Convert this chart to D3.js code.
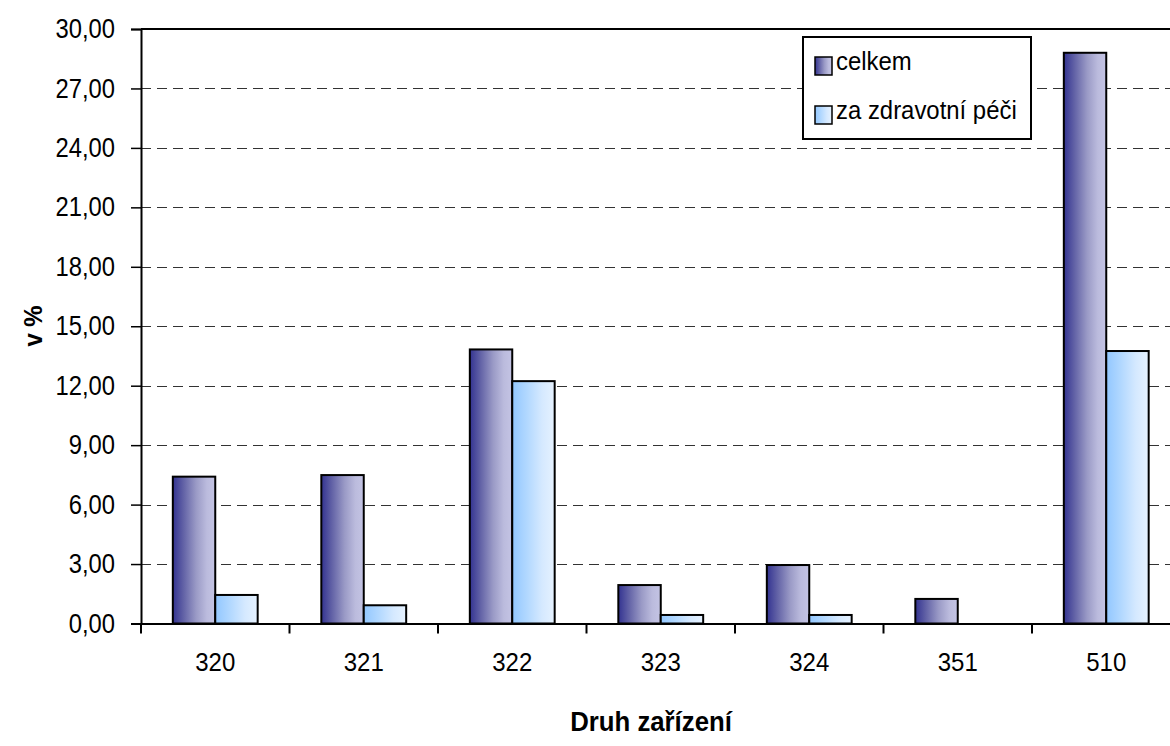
<!DOCTYPE html>
<html>
<head>
<meta charset="utf-8">
<script src="https://cdn.jsdelivr.net/npm/d3@7"></script>
<style>
  html, body { margin: 0; padding: 0; background: #fff; }
  svg { display: block; }
  text { font-family: "Liberation Sans", Arial, sans-serif; fill: #000; }
</style>
</head>
<body>
<svg id="chart" width="1170" height="746"></svg>
<script>
const categories = ["320", "321", "322", "323", "324", "351", "510"];
const seriesNames = ["celkem", "za zdravotní péči"];
const celkem = [7.41, 7.49, 13.83, 1.94, 2.95, 1.24, 28.80];
const zaPeci = [1.44, 0.92, 12.23, 0.43, 0.43, 0, 13.75];
const yTicks = [0, 3, 6, 9, 12, 15, 18, 21, 24, 27, 30];
const yTitle = "v %";
const xTitle = "Druh zařízení";

(function () {
const svg = d3.select("#chart");
const pLeft = 141, pTop = 29, pRight = 1180.5, pBottom = 623.5;

const locale = d3.formatLocale({decimal: ",", thousands: " ", grouping: [3], currency: ["", " Kč"]});
const fmt = locale.format(".2f");

const x0 = d3.scaleBand().domain(categories).range([pLeft, pRight]).padding(0);
const x1 = d3.scaleBand().domain(seriesNames).range([0, x0.bandwidth()]).paddingInner(0).paddingOuter(0.75);
const y = d3.scaleLinear().domain([0, 30]).range([pBottom, pTop]);

const defs = svg.append("defs");
function grad(id, stops) {
  const g = defs.append("linearGradient").attr("id", id).attr("x1", "0%").attr("x2", "100%").attr("y1", "0%").attr("y2", "0%");
  stops.forEach(([o, c]) => g.append("stop").attr("offset", o).attr("stop-color", c));
}
grad("gDark", [["0%", "#333391"], ["25%", "#6262a6"], ["55%", "#9a9ac6"], ["80%", "#bbbbdd"], ["100%", "#c4c4e4"]]);
grad("gLight", [["0%", "#92c7ff"], ["35%", "#b2d8ff"], ["70%", "#d5e9ff"], ["100%", "#e6f2ff"]]);
const fills = {"celkem": "url(#gDark)", "za zdravotní péči": "url(#gLight)"};

// gridlines
svg.append("g").selectAll("line").data(yTicks.filter(t => t > 0 && t < 30)).join("line")
  .attr("x1", pLeft).attr("x2", pRight)
  .attr("y1", d => Math.round(y(d)) + 0.5).attr("y2", d => Math.round(y(d)) + 0.5)
  .attr("stroke", "#333").attr("stroke-width", 1).attr("stroke-dasharray", "10,6");

// top border
svg.append("line").attr("x1", pLeft).attr("x2", pRight).attr("y1", y(30)).attr("y2", y(30))
  .attr("stroke", "#000").attr("stroke-width", 2);

// bars
const data = categories.map((c, i) => ({cat: c, vals: [
  {s: seriesNames[0], v: celkem[i]}, {s: seriesNames[1], v: zaPeci[i]}]}));
const groups = svg.append("g").selectAll("g").data(data).join("g")
  .attr("transform", d => `translate(${x0(d.cat)},0)`);
groups.selectAll("rect").data(d => d.vals.filter(e => e.v > 0)).join("rect")
  .attr("x", d => x1(d.s)).attr("width", x1.bandwidth())
  .attr("y", d => y(d.v)).attr("height", d => y(0) - y(d.v))
  .attr("fill", d => fills[d.s]).attr("stroke", "#000").attr("stroke-width", 2);

// y axis
const sx = 0.88;
const yAxis = d3.axisLeft(y).tickValues(yTicks).tickFormat(fmt).tickSize(10);
const gy = svg.append("g").attr("transform", `translate(${pLeft},0)`).call(yAxis);
gy.select(".domain").attr("stroke", "#000").attr("stroke-width", 2);
gy.selectAll(".tick line").attr("stroke", "#000").attr("stroke-width", 1.5);
gy.selectAll("text").attr("font-size", 27).attr("font-family", "Liberation Sans, Arial, sans-serif").attr("fill", "#000")
  .attr("x", -26 / sx).attr("transform", `scale(${sx},1)`);

// x axis
const gx = svg.append("g").attr("transform", `translate(0,${pBottom})`)
  .call(d3.axisBottom(x0).tickSize(0).tickPadding(30));
gx.select(".domain").attr("stroke", "#000").attr("stroke-width", 2);
gx.selectAll("text").attr("font-size", 25).attr("font-family", "Liberation Sans, Arial, sans-serif").attr("fill", "#000")
  .attr("transform", "scale(0.96,1)").attr("x", function () { return 0; });
gx.selectAll(".tick").each(function () {
  const t = d3.select(this);
  const tr = t.attr("transform");
  const xv = +tr.match(/translate\(([-\d.]+)/)[1];
  t.attr("transform", `translate(${xv},0)`);
});

// category boundary ticks
svg.append("g").selectAll("line").data(d3.range(categories.length + 1)).join("line")
  .attr("x1", i => pLeft + i * x0.step()).attr("x2", i => pLeft + i * x0.step())
  .attr("y1", pBottom).attr("y2", pBottom + 10)
  .attr("stroke", "#000").attr("stroke-width", 2);

// titles
svg.append("text").attr("transform", "translate(42,326) rotate(-90) scale(0.92,1)")
  .attr("text-anchor", "middle").attr("font-size", 26).attr("font-weight", "bold").text(yTitle);
svg.append("text").attr("transform", "translate(651,731) scale(0.92,1)")
  .attr("text-anchor", "middle").attr("font-size", 28).attr("font-weight", "bold").text(xTitle);

// legend
const lg = svg.append("g");
lg.append("rect").attr("x", 803).attr("y", 37).attr("width", 228).attr("height", 102)
  .attr("fill", "#fff").attr("stroke", "#000").attr("stroke-width", 2);
const items = lg.selectAll("g").data(seriesNames).join("g")
  .attr("transform", (d, i) => `translate(815,${57 + i * 49})`);
items.append("rect").attr("width", 17).attr("height", 18)
  .attr("fill", d => fills[d]).attr("stroke", "#000").attr("stroke-width", 1.5);
items.append("text").attr("transform", "translate(21,13) scale(0.92,1)").attr("font-size", 26).text(d => d);
})();
</script>
</body>
</html>
